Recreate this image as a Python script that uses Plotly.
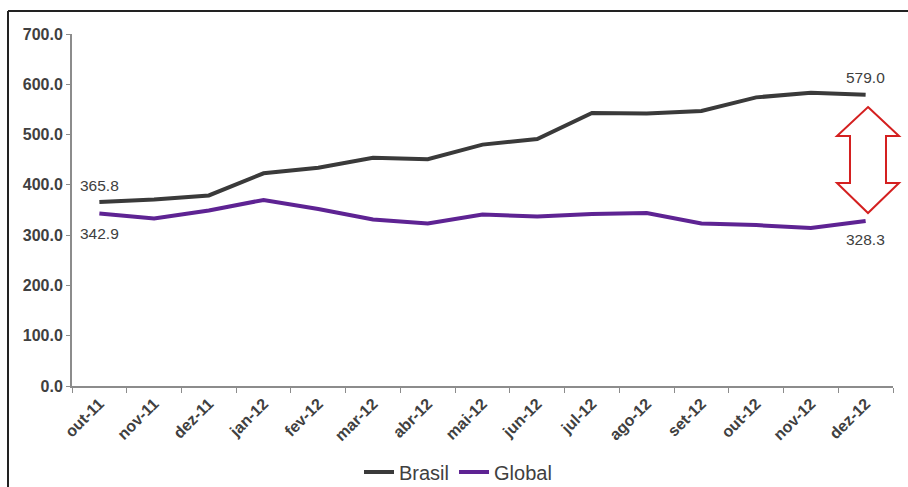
import plotly.graph_objects as go

months = ["out-11", "nov-11", "dez-11", "jan-12", "fev-12", "mar-12", "abr-12", "mai-12",
          "jun-12", "jul-12", "ago-12", "set-12", "out-12", "nov-12", "dez-12"]
brasil = [365.8, 371, 379, 423, 434, 454, 451, 480, 491, 543, 542, 547, 574, 583, 579.0]
global_ = [342.9, 333, 349, 370, 352, 331, 323, 341, 337, 342, 344, 323, 320, 314, 328.3]
y_ticks = [0, 100, 200, 300, 400, 500, 600, 700]

FONT = "Liberation Sans, Arial, sans-serif"
TXT = "#404040"

W, H = 908, 487
L, R, T, B = 72, 15, 34, 101
PW, PH = W - L - R, H - T - B


def px(x):
    return (x - L) / PW


def py(y):
    return (H - B - y) / PH


fig = go.Figure()
fig.add_trace(go.Scatter(x=months, y=brasil, name="Brasil", mode="lines",
                         line=dict(color="#3a3a3a", width=4)))
fig.add_trace(go.Scatter(x=months, y=global_, name="Global", mode="lines",
                         line=dict(color="#5e2393", width=4)))

# value labels on the first and last points
for idx, series, shift in [(0, brasil, 17), (0, global_, -20), (-1, brasil, 17), (-1, global_, -19)]:
    fig.add_annotation(x=months[idx], y=series[idx], text=f"{series[idx]:.1f}", showarrow=False,
                       yshift=shift, xanchor="center", yanchor="middle",
                       font=dict(family=FONT, size=15.5, color=TXT))

# red outlined double arrow
pts = [(868, 107), (899, 136), (886, 136), (886, 183), (899, 183), (868, 213),
       (837, 183), (850, 183), (850, 136), (837, 136)]
path = "M " + " L ".join(f"{px(x):.5f},{py(y):.5f}" for x, y in pts) + " Z"
fig.add_shape(type="path", xref="paper", yref="paper", path=path,
              line=dict(color="#d42020", width=2), fillcolor="white")

# outer frame (left and top)
fig.add_shape(type="line", xref="paper", yref="paper", x0=px(8), x1=px(8), y0=py(11), y1=py(H + 5),
              line=dict(color="#222222", width=2))
fig.add_shape(type="line", xref="paper", yref="paper", x0=px(8), x1=px(W + 5), y0=py(11), y1=py(11),
              line=dict(color="#222222", width=2))

fig.update_layout(
    width=W, height=H,
    margin=dict(l=L, r=R, t=T, b=B, autoexpand=False),
    paper_bgcolor="white", plot_bgcolor="white",
    showlegend=True,
    legend=dict(orientation="h", x=px(458), xanchor="center", y=py(472), yanchor="middle",
                font=dict(family=FONT, size=20, color=TXT), itemwidth=30,
                traceorder="normal"),
    xaxis=dict(type="category", tickson="boundaries", ticks="outside", ticklen=5,
               tickcolor="#8c8c8c", showline=True, linecolor="#8c8c8c", linewidth=2,
               showgrid=False, tickangle=-45, automargin=False,
               tickfont=dict(family=FONT, size=16, color=TXT, weight="bold"),
               range=[-0.5, len(months) - 0.5]),
    yaxis=dict(range=[0, 700], tickvals=y_ticks, tickformat=".1f", ticks="outside", ticklen=4,
               tickcolor="#8c8c8c", showline=True, linecolor="#8c8c8c", linewidth=2,
               showgrid=False, zeroline=False, automargin=False,
               tickfont=dict(family=FONT, size=16, color=TXT, weight="bold")),
)

fig.write_html("out.html")
